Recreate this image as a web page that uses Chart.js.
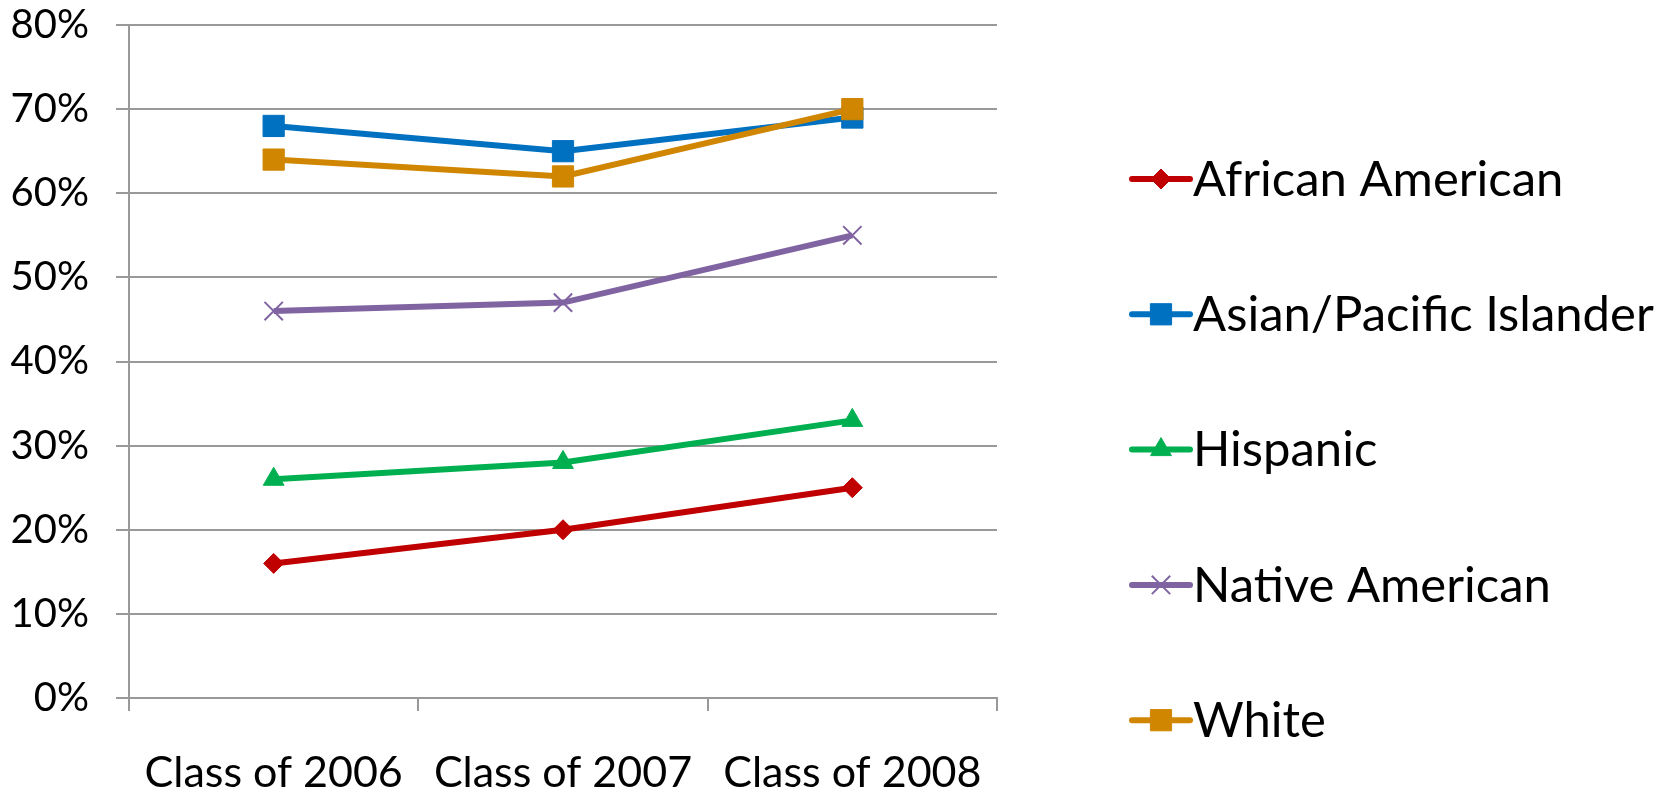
<!DOCTYPE html>
<html>
<head>
<meta charset="utf-8">
<script src="https://cdn.jsdelivr.net/npm/chart.js@4.4.0/dist/chart.umd.min.js"></script>
<style>
html, body { margin: 0; padding: 0; background: #fff; }
</style>
</head>
<body>
<canvas id="myChart" width="1667" height="797"></canvas>
<script>
// data (percent)
const classes = ['Class of 2006', 'Class of 2007', 'Class of 2008'];
const africanAmerican = [16, 20, 25];
const asianPacific = [68, 65, 69];
const hispanic = [26, 28, 33];
const nativeAmerican = [46, 47, 55];
const white = [64, 62, 70];
const yTicks = [0, 10, 20, 30, 40, 50, 60, 70, 80];

const FONT = 'Lato, Calibri, sans-serif';

const series = [
    { label: 'African American', data: africanAmerican, color: '#C00000', style: 'rectRot', radius: 10, bw: 1 },
    { label: 'Asian/Pacific Islander', data: asianPacific, color: '#0070C0', style: 'rect', radius: 15, bw: 1 },
    { label: 'Hispanic', data: hispanic, color: '#00B050', style: 'triangle', radius: 12, bw: 1 },
    { label: 'Native American', data: nativeAmerican, color: '#8064A2', style: 'crossRot', radius: 13, bw: 2 },
    { label: 'White', data: white, color: '#D08600', style: 'rect', radius: 15, bw: 1 },
];

// legend drawn on the right: short line with the marker in the middle
const sideLegend = {
    id: 'sideLegend',
    afterDraw(chart) {
        const ctx = chart.ctx;
        const x0 = 1132, x1 = 1190;
        let y = 179;
        series.forEach(s => {
            ctx.save();
            ctx.strokeStyle = s.color;
            ctx.fillStyle = s.color;
            ctx.lineWidth = 6;
            ctx.lineCap = 'round';
            ctx.beginPath();
            ctx.moveTo(x0, y);
            ctx.lineTo(x1, y);
            ctx.stroke();
            ctx.lineCap = 'butt';
            ctx.lineWidth = s.bw;
            Chart.helpers.drawPoint(ctx, {
                pointStyle: s.style, radius: s.radius, rotation: 0, borderWidth: s.bw
            }, (x0 + x1) / 2, y);
            ctx.fillStyle = '#000';
            ctx.font = '49px ' + FONT;
            ctx.textBaseline = 'middle';
            ctx.textAlign = 'left';
            ctx.fillText(s.label, 1193, y + 1);
            ctx.restore();
            y += 135.3;
        });
    }
};

const ctx = document.getElementById('myChart').getContext('2d');
const myChart = new Chart(ctx, {
    type: 'line',
    data: {
        labels: classes,
        datasets: series.map((s, i) => ({
            label: s.label,
            data: s.data,
            borderColor: s.color,
            backgroundColor: s.color,
            borderWidth: 6,
            pointStyle: s.style,
            pointRadius: s.radius,
            pointBorderWidth: s.bw,
            pointBorderColor: s.color,
            pointBackgroundColor: s.color,
            tension: 0,
            order: series.length - i,
        })),
    },
    options: {
        responsive: false,
        animation: false,
        devicePixelRatio: 1,
        layout: { padding: { top: 0, right: 670, left: 0, bottom: 0 } },
        plugins: {
            legend: { display: false },
            tooltip: { enabled: false },
        },
        scales: {
            x: {
                offset: true,
                grid: {
                    offset: true,
                    drawOnChartArea: false,
                    drawTicks: true,
                    tickLength: 13,
                    color: '#999999',
                    lineWidth: 2,
                },
                border: { color: '#999999', width: 2 },
                ticks: {
                    color: '#000',
                    font: { family: FONT, size: 43 },
                    padding: 36,
                    maxRotation: 0,
                },
                afterFit(scale) { scale.height = 99; },
            },
            y: {
                min: yTicks[0],
                max: yTicks[yTicks.length - 1],
                afterBuildTicks(scale) {
                    scale.ticks = yTicks.map(v => ({ value: v }));
                },
                grid: {
                    drawTicks: true,
                    tickLength: 13,
                    color: '#999999',
                    lineWidth: 2,
                },
                border: { color: '#999999', width: 2 },
                ticks: {
                    color: '#000',
                    font: { family: FONT, size: 40 },
                    padding: 27,
                    callback: v => v + '%',
                },
                afterFit(scale) {
                    scale.width = 129;
                    scale.paddingTop = 25;
                    scale.paddingBottom = 0;
                },
            },
        },
    },
    plugins: [sideLegend],
});
</script>
</body>
</html>
